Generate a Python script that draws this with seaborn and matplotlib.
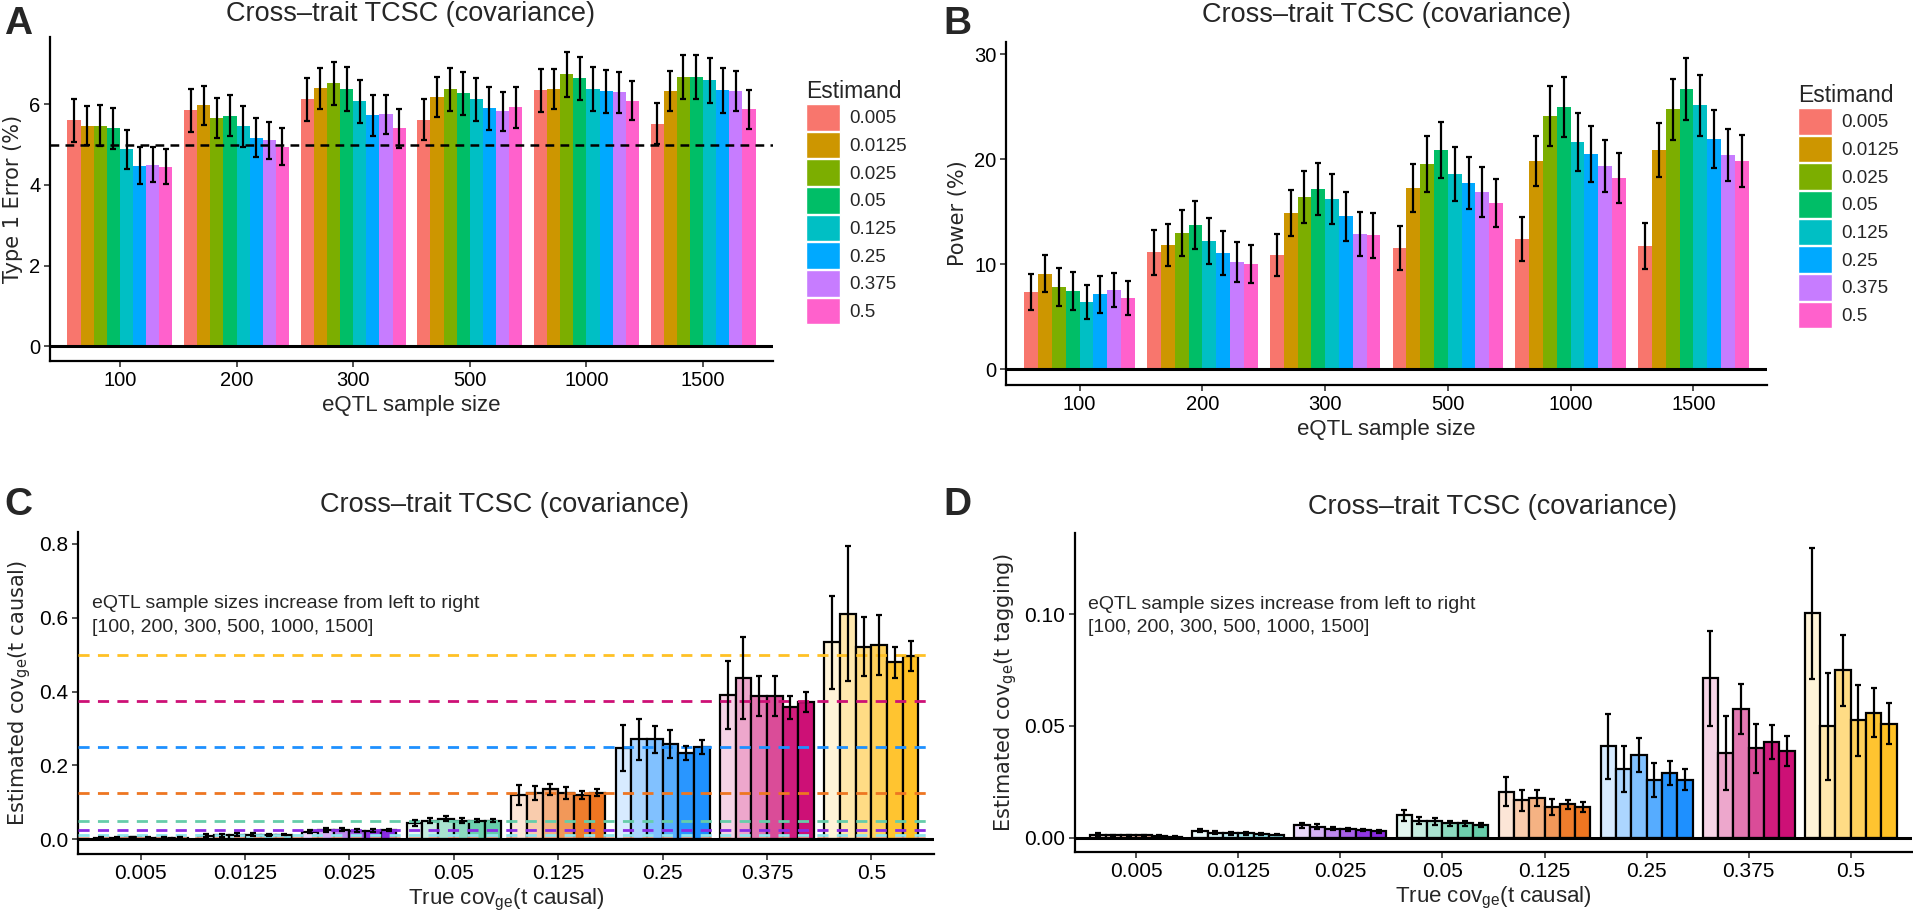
import numpy as np
import pandas as pd
import matplotlib
matplotlib.use("Agg")
import matplotlib.pyplot as plt
import matplotlib.colors as mcolors
from matplotlib.patches import Patch
import seaborn as sns

# ---------------- data ----------------
sample_sizes = ["100", "200", "300", "500", "1000", "1500"]
estimands = ["0.005", "0.0125", "0.025", "0.05", "0.125", "0.25", "0.375", "0.5"]
estimand_colors = ["#F8766D", "#CD9600", "#7CAE00", "#00BE67",
                   "#00BFC4", "#00A9FF", "#C77CFF", "#FF61CC"]

# Panel A: type 1 error (%) per sample size, one value per estimand
t1_n100 = [5.60, 5.47, 5.47, 5.40, 4.88, 4.48, 4.50, 4.45]
t1_n200 = [5.85, 5.97, 5.65, 5.71, 5.45, 5.17, 5.10, 4.95]
t1_n300 = [6.12, 6.39, 6.52, 6.37, 6.07, 5.72, 5.75, 5.40]
t1_n500 = [5.62, 6.17, 6.37, 6.27, 6.12, 5.90, 5.82, 5.92]
t1_n1000 = [6.34, 6.37, 6.74, 6.64, 6.37, 6.32, 6.29, 6.09]
t1_n1500 = [5.52, 6.32, 6.67, 6.67, 6.59, 6.34, 6.32, 5.87]
t1_err_n100 = [0.53, 0.48, 0.50, 0.50, 0.48, 0.45, 0.43, 0.43]
t1_err_n200 = [0.53, 0.48, 0.50, 0.51, 0.50, 0.48, 0.45, 0.45]
t1_err_n300 = [0.53, 0.50, 0.53, 0.55, 0.53, 0.50, 0.48, 0.48]
t1_err_n500 = [0.50, 0.50, 0.53, 0.53, 0.53, 0.53, 0.48, 0.50]
t1_err_n1000 = [0.53, 0.50, 0.55, 0.53, 0.55, 0.53, 0.50, 0.48]
t1_err_n1500 = [0.50, 0.50, 0.55, 0.55, 0.55, 0.55, 0.50, 0.48]

# Panel B: power (%)
pw_n100 = [7.37, 9.11, 7.84, 7.46, 6.41, 7.17, 7.56, 6.79]
pw_n200 = [11.17, 11.84, 12.98, 13.75, 12.22, 11.08, 10.22, 10.03]
pw_n300 = [10.89, 14.89, 16.41, 17.17, 16.22, 14.60, 12.89, 12.79]
pw_n500 = [11.56, 17.27, 19.56, 20.89, 18.60, 17.75, 16.89, 15.84]
pw_n1000 = [12.41, 19.84, 24.13, 24.98, 21.65, 20.51, 19.37, 18.22]
pw_n1500 = [11.75, 20.89, 24.79, 26.70, 25.17, 21.94, 20.41, 19.84]
pw_err_n100 = [1.75, 1.78, 1.84, 1.84, 1.65, 1.75, 1.65, 1.65]
pw_err_n200 = [2.13, 2.03, 2.22, 2.29, 2.22, 2.13, 1.94, 1.84]
pw_err_n300 = [2.03, 2.22, 2.50, 2.50, 2.41, 2.32, 2.13, 2.13]
pw_err_n500 = [2.13, 2.32, 2.70, 2.70, 2.60, 2.50, 2.41, 2.32]
pw_err_n1000 = [2.13, 2.41, 2.89, 2.86, 2.79, 2.70, 2.50, 2.41]
pw_err_n1500 = [2.22, 2.60, 2.89, 2.98, 2.89, 2.79, 2.50, 2.50]

# Panel C: estimated cov_ge(t causal), per true value, one per sample size
true_values = [0.005, 0.0125, 0.025, 0.05, 0.125, 0.25, 0.375, 0.5]
true_colors = ["#E9967A", "#8EE5EE", "#8A2BE2", "#66CDAA",
               "#EE7621", "#1E90FF", "#CD1076", "#FFC125"]
causal_t0005 = [0.004, 0.005, 0.006, 0.005, 0.005, 0.005]
causal_t00125 = [0.010, 0.011, 0.013, 0.013, 0.012, 0.013]
causal_t0025 = [0.021, 0.026, 0.026, 0.024, 0.024, 0.026]
causal_t005 = [0.045, 0.051, 0.056, 0.051, 0.051, 0.050]
causal_t0125 = [0.120, 0.125, 0.135, 0.126, 0.120, 0.126]
causal_t025 = [0.248, 0.271, 0.271, 0.259, 0.235, 0.251]
causal_t0375 = [0.392, 0.438, 0.389, 0.389, 0.357, 0.373]
causal_t05 = [0.533, 0.611, 0.522, 0.527, 0.479, 0.497]
causal_err_t0005 = [0.002, 0.002, 0.0015, 0.0015, 0.001, 0.001]
causal_err_t00125 = [0.004, 0.004, 0.003, 0.003, 0.002, 0.002]
causal_err_t0025 = [0.005, 0.005, 0.004, 0.004, 0.003, 0.003]
causal_err_t005 = [0.008, 0.008, 0.006, 0.006, 0.004, 0.004]
causal_err_t0125 = [0.026, 0.019, 0.016, 0.017, 0.010, 0.009]
causal_err_t025 = [0.062, 0.056, 0.037, 0.038, 0.019, 0.019]
causal_err_t0375 = [0.092, 0.111, 0.054, 0.054, 0.030, 0.027]
causal_err_t05 = [0.127, 0.182, 0.081, 0.081, 0.041, 0.041]

# Panel D: estimated cov_ge(t tagging)
tag_t0005 = [0.0013, 0.0009, 0.0009, 0.0009, 0.0006, 0.0004]
tag_t00125 = [0.0031, 0.0022, 0.0018, 0.0018, 0.0015, 0.0013]
tag_t0025 = [0.0054, 0.0049, 0.0040, 0.0036, 0.0033, 0.0027]
tag_t005 = [0.0099, 0.0076, 0.0072, 0.0063, 0.0063, 0.0054]
tag_t0125 = [0.0206, 0.0166, 0.0179, 0.0135, 0.0148, 0.0135]
tag_t025 = [0.0408, 0.0305, 0.0368, 0.0256, 0.0291, 0.0260]
tag_t0375 = [0.0713, 0.0377, 0.0574, 0.0399, 0.0430, 0.0386]
tag_t05 = [0.1006, 0.0498, 0.0749, 0.0525, 0.0560, 0.0511]
tag_err_t0005 = [0.0006, 0.0004, 0.0004, 0.0004, 0.0003, 0.0003]
tag_err_t00125 = [0.0008, 0.0006, 0.0005, 0.0005, 0.0004, 0.0003]
tag_err_t0025 = [0.0013, 0.0010, 0.0008, 0.0008, 0.0006, 0.0005]
tag_err_t005 = [0.0023, 0.0017, 0.0014, 0.0013, 0.0011, 0.0009]
tag_err_t0125 = [0.0063, 0.0045, 0.0036, 0.0036, 0.0022, 0.0022]
tag_err_t025 = [0.0144, 0.0103, 0.0076, 0.0076, 0.0054, 0.0049]
tag_err_t0375 = [0.0211, 0.0166, 0.0112, 0.0112, 0.0076, 0.0067]
tag_err_t05 = [0.0294, 0.0238, 0.0161, 0.0158, 0.0108, 0.0094]

t1_vals = [t1_n100, t1_n200, t1_n300, t1_n500, t1_n1000, t1_n1500]
t1_errs = [t1_err_n100, t1_err_n200, t1_err_n300, t1_err_n500, t1_err_n1000, t1_err_n1500]
pw_vals = [pw_n100, pw_n200, pw_n300, pw_n500, pw_n1000, pw_n1500]
pw_errs = [pw_err_n100, pw_err_n200, pw_err_n300, pw_err_n500, pw_err_n1000, pw_err_n1500]
causal_vals = [causal_t0005, causal_t00125, causal_t0025, causal_t005,
               causal_t0125, causal_t025, causal_t0375, causal_t05]
causal_errs = [causal_err_t0005, causal_err_t00125, causal_err_t0025, causal_err_t005,
               causal_err_t0125, causal_err_t025, causal_err_t0375, causal_err_t05]
tag_vals = [tag_t0005, tag_t00125, tag_t0025, tag_t005,
            tag_t0125, tag_t025, tag_t0375, tag_t05]
tag_errs = [tag_err_t0005, tag_err_t00125, tag_err_t0025, tag_err_t005,
            tag_err_t0125, tag_err_t025, tag_err_t0375, tag_err_t05]

# ---------------- style ----------------
sns.set_theme(style="white")
plt.rcParams["font.family"] = ["Liberation Sans", "DejaVu Sans"]
plt.rcParams["mathtext.default"] = "regular"

W, H = 1913, 916
fig = plt.figure(figsize=(W / 100, H / 100), dpi=100)


def px_axes(left, right, top, bottom):
    return fig.add_axes([left / W, 1 - bottom / H, (right - left) / W, (bottom - top) / H])


def style_axes(ax, tick_size):
    sns.despine(ax=ax)
    for s in ("left", "bottom"):
        ax.spines[s].set_linewidth(1.6)
        ax.spines[s].set_color("black")
    ax.tick_params(axis="both", length=4, width=1.2, color="#333333",
                   labelsize=tick_size, labelcolor="black", pad=3,
                   bottom=True, left=True)
    ax.grid(False)


def build_long(vals, errs, outer, inner, outer_name, inner_name):
    rows = []
    for i, o in enumerate(outer):
        for j, n in enumerate(inner):
            rows.append({outer_name: o, inner_name: n, "value": vals[i][j], "err": errs[i][j]})
    return pd.DataFrame(rows)


def add_errorbars(ax, df, xcol, huecol, xorder, hueorder):
    conts = list(ax.containers)
    for hi, cont in enumerate(conts):
        for ci, bar in enumerate(cont):
            row = df[(df[xcol] == xorder[ci]) & (df[huecol] == hueorder[hi])].iloc[0]
            xc = bar.get_x() + bar.get_width() / 2
            ax.errorbar(xc, row["value"], yerr=row["err"], fmt="none", ecolor="black",
                        elinewidth=1.6, capsize=2.4, capthick=1.6, zorder=6)


def estimand_panel(ax, vals, errs, ylim, yticks, ylabel):
    df = build_long(vals, errs, sample_sizes, estimands, "n", "est")
    sns.barplot(data=df, x="n", y="value", hue="est", order=sample_sizes,
                hue_order=estimands, palette=estimand_colors, width=0.9,
                errorbar=None, saturation=1, legend=False, linewidth=0, ax=ax)
    add_errorbars(ax, df, "n", "est", sample_sizes, estimands)
    ax.axhline(0, color="black", lw=2.2, zorder=7)
    style_axes(ax, 14.5)
    ax.set_xlim(-0.6, len(sample_sizes) - 0.4)
    ax.set_ylim(*ylim)
    ax.set_yticks(yticks)
    ax.set_xlabel("eQTL sample size", fontsize=16, labelpad=4)
    ax.set_ylabel(ylabel, fontsize=15, family=["DejaVu Sans"], labelpad=4)


def shade(base, frac):
    c = np.array(mcolors.to_rgb(base))
    return tuple(1 - frac * (1 - c))


shade_fracs = [0.18, 0.37, 0.56, 0.75, 0.95, 1.0]


def cov_panel(ax, vals, errs, ylim, yticks, fmt, ylabel, lines):
    df = build_long(vals, errs, estimands, sample_sizes, "true", "n")
    sns.barplot(data=df, x="true", y="value", hue="n", order=estimands,
                hue_order=sample_sizes, palette=["#888888"] * 6, width=0.9,
                errorbar=None, saturation=1, legend=False,
                edgecolor="black", linewidth=1.6, ax=ax)
    for hi, cont in enumerate(list(ax.containers)):
        for ci, bar in enumerate(cont):
            bar.set_facecolor(shade(true_colors[ci], shade_fracs[hi]))
    if lines:
        for v, c in zip(true_values, true_colors):
            ax.axhline(v, color=c, lw=2.0, ls=(0, (4, 3)), zorder=5)
    add_errorbars(ax, df, "true", "n", estimands, sample_sizes)
    ax.axhline(0, color="black", lw=2.2, zorder=7)
    style_axes(ax, 15)
    ax.set_xlim(-0.6, len(estimands) - 0.4)
    ax.set_ylim(*ylim)
    ax.set_yticks(yticks)
    ax.set_yticklabels([fmt.format(t) for t in yticks])
    ax.set_xlabel("True cov$_{ge}$(t causal)", fontsize=16, labelpad=3)
    ax.set_ylabel(ylabel, fontsize=15, family=["DejaVu Sans"], labelpad=4)
    ax.text(0.016, 0.74, "eQTL sample sizes increase from left to right\n[100, 200, 300, 500, 1000, 1500]",
            transform=ax.transAxes, fontsize=14, va="center", ha="left", linespacing=1.5)


# Panel A
axA = px_axes(50, 773, 37, 361)
estimand_panel(axA, t1_vals, t1_errs, (-0.365, 7.665), [0, 2, 4, 6], "Type 1 Error (%)")
axA.axhline(5, color="black", lw=1.8, ls=(0, (3.5, 2.5)), zorder=5)

# Panel B
axB = px_axes(1006, 1767, 42, 385)
estimand_panel(axB, pw_vals, pw_errs, (-1.485, 31.19), [0, 10, 20, 30], "Power (%)")

# Panel C
axC = px_axes(78, 934, 532, 854)
cov_panel(axC, causal_vals, causal_errs, (-0.0396, 0.832), [0, 0.2, 0.4, 0.6, 0.8],
          "{:.1f}", "Estimated cov$_{ge}$(t causal)", True)

# Panel D
axD = px_axes(1075, 1912, 533, 852)
cov_panel(axD, tag_vals, tag_errs, (-0.0065, 0.1365), [0, 0.05, 0.10],
          "{:.2f}", "Estimated cov$_{ge}$(t tagging)", False)

# Legends
handles = [Patch(facecolor=c, edgecolor="white", linewidth=1.0) for c in estimand_colors]
for (x0, y0, hh) in [(806, 80, 1.8), (1798, 84, 1.8)]:
    leg = fig.legend(handles, estimands, title="Estimand", loc="upper left",
                     bbox_to_anchor=(x0 / W, 1 - y0 / H), frameon=False,
                     fontsize=13.5, title_fontsize=16.5, handlelength=hh, handleheight=hh,
                     labelspacing=0.06, handletextpad=0.5, borderpad=0, borderaxespad=0)
    leg._legend_box.align = "left"

# Titles
for (x, y, txt) in [(410, 14, "Cross\u2013trait TCSC (covariance)"),
                    (1387, 15, "Cross\u2013trait TCSC (covariance)"),
                    (505, 505, "Cross\u2013trait TCSC (covariance)"),
                    (1493, 507, "Cross\u2013trait TCSC (covariance)")]:
    fig.text(x / W, 1 - y / H, txt, ha="center", va="center", fontsize=19.5)

# Panel letters
for (x, y, t) in [(4, 24, "A"), (943, 24, "B"), (4, 505, "C"), (943, 505, "D")]:
    fig.text(x / W, 1 - y / H, t, ha="left", va="center", fontsize=28, fontweight="bold")

fig.savefig("out.png", dpi=100)
